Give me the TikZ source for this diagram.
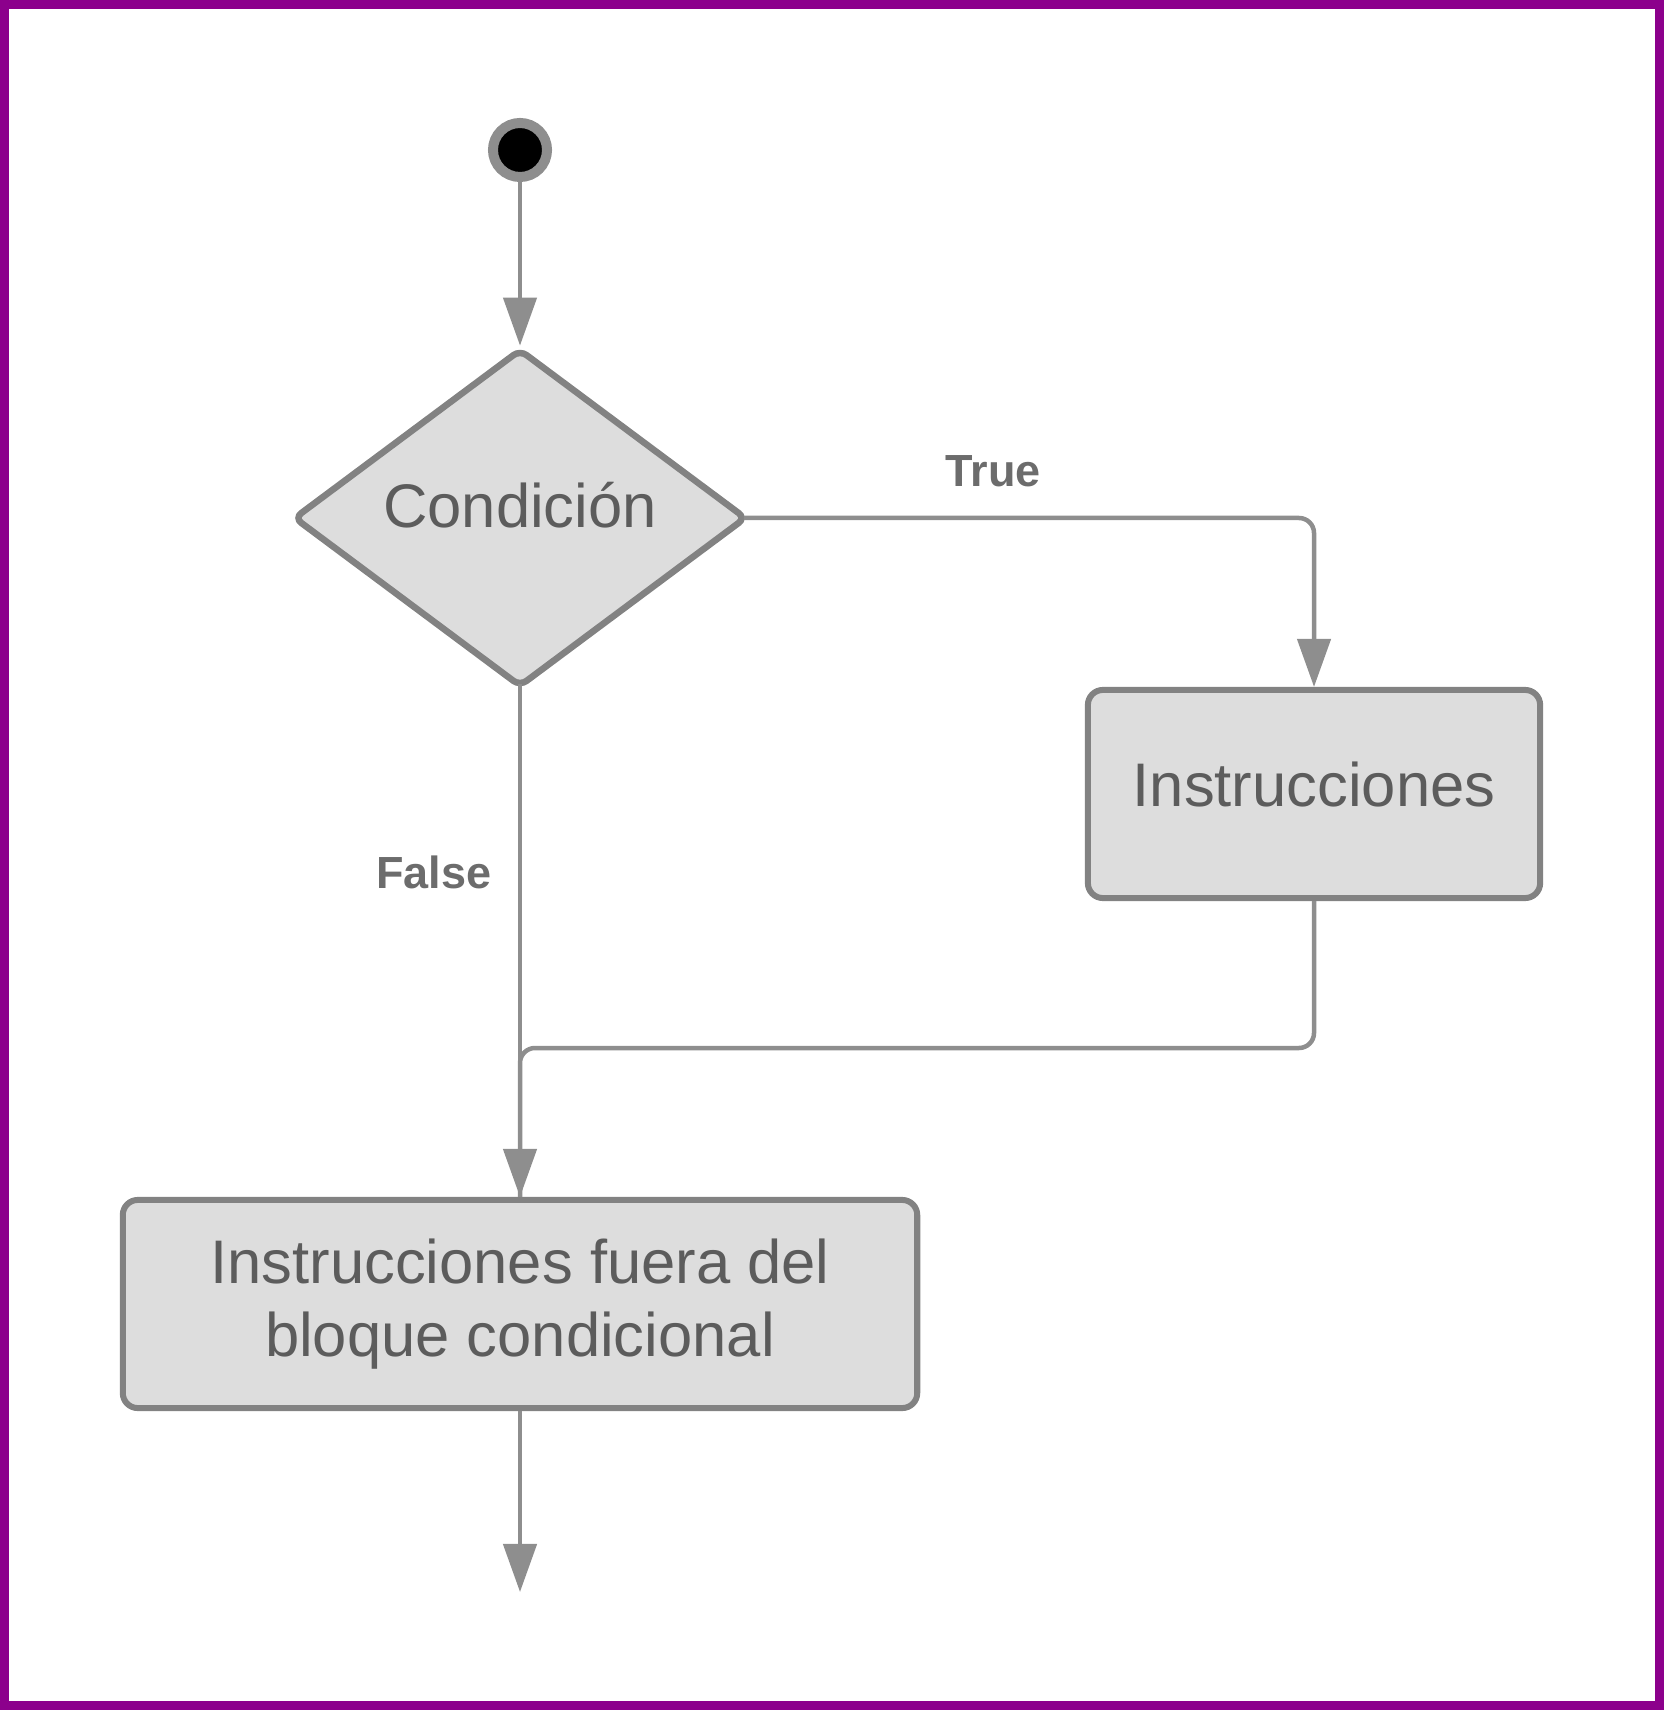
\documentclass[tikz,border=0pt]{standalone}
\usepackage{fontspec}
\setmainfont{Liberation Sans}
\usetikzlibrary{shapes.geometric,arrows.meta}
\definecolor{framepurple}{RGB}{140,0,140}
\definecolor{linegray}{RGB}{142,142,142}
\definecolor{bordergray}{RGB}{130,130,130}
\definecolor{fillgray}{RGB}{221,221,221}
\definecolor{textgray}{RGB}{92,92,92}
\definecolor{labelgray}{RGB}{108,108,108}
\tikzset{
  conn/.style={draw=linegray, line width=0.045cm, rounded corners=0.15cm,
    -{Triangle[width=0.33cm,length=0.48cm]}},
  plain/.style={draw=linegray, line width=0.045cm, rounded corners=0.15cm},
  boxshape/.style={draw=bordergray, fill=fillgray, line width=0.06cm,
    rounded corners=0.15cm, inner sep=0pt, text=textgray,
    font=\fontsize{17.5}{20.8}\selectfont},
  diashape/.style={diamond, draw=bordergray, fill=fillgray, line width=0.065cm,
    rounded corners=0.08cm, inner sep=0pt, text=textgray,
    font=\fontsize{17.5}{20.8}\selectfont},
  startdot/.style={circle, draw=linegray, fill=black, line width=0.1cm,
    minimum size=0.54cm, inner sep=0pt},
  edgelabel/.style={text=labelgray, font=\fontsize{12.8}{15}\selectfont\bfseries,
    anchor=base, inner sep=0pt}
}
\begin{document}
\begin{tikzpicture}[x=0.01cm, y=-0.01cm]
\useasboundingbox (0,0) rectangle (1664,1710);
\draw[framepurple, line width=0.09cm] (4.5,4.5) rectangle (1659.5,1705.5);

\node[startdot] (start) at (520,150) {};
\node[diashape, minimum width=4.53cm, minimum height=3.38cm,
      text height=0.75em, text depth=0.2em] (cond) at (520,518) {Condición};
\node[boxshape, minimum width=4.52cm, minimum height=2.08cm,
      text height=0.75em, text depth=0.05em] (ins) at (1314,794) {Instrucciones};
\node[boxshape, minimum width=7.94cm, minimum height=2.08cm, align=center]
      (fin) at (520,1304) {Instrucciones fuera del\\bloque condicional};
\coordinate (merge) at (520,1048);
\coordinate (stop) at (520,1592);

\node[edgelabel] (tlabel) at (993,487) {True};
\node[edgelabel] (flabel) at (434,888) {False};

\draw[conn] (start) -- (cond.north);
\draw[conn, shorten <=-0.06cm] (cond.east) -| (ins.north);
\draw[plain] (ins.south) |- (merge) -- (fin.north);
\draw[conn, shorten <=-0.06cm] (cond.south) -- (fin.north);
\draw[conn] (fin.south) -- (stop);
\end{tikzpicture}
\end{document}
